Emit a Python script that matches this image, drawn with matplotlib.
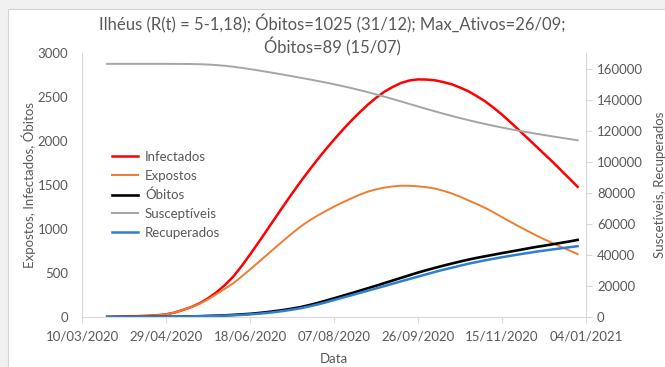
import matplotlib
matplotlib.use("Agg")
import matplotlib.pyplot as plt
import matplotlib.dates as mdates
from matplotlib.patches import Rectangle
import pandas as pd

plt.rcParams["font.family"] = ["Lato", "DejaVu Sans"]

# Model output sampled every 5 days, 25/03/2020 .. 30/12/2020
dates = pd.date_range("2020-03-25", periods=57, freq="5D")

infectados = [0, 3, 5, 8, 11, 15, 21, 30, 50, 80,
              113, 155, 212, 280, 362, 458, 578, 710, 845, 985,
              1125, 1265, 1402, 1535, 1662, 1785, 1903, 2015, 2123, 2225,
              2320, 2410, 2490, 2560, 2615, 2660, 2688, 2700, 2698, 2690,
              2670, 2645, 2608, 2565, 2510, 2450, 2378, 2300, 2214, 2125,
              2036, 1945, 1855, 1765, 1670, 1575, 1480]
expostos = [0, 3, 5, 8, 11, 15, 21, 30, 50, 80,
            112, 150, 200, 260, 320, 383, 460, 540, 622, 705,
            788, 870, 950, 1027, 1092, 1150, 1203, 1254, 1301, 1345,
            1387, 1424, 1450, 1470, 1484, 1492, 1491, 1485, 1475, 1460,
            1435, 1405, 1367, 1325, 1283, 1240, 1188, 1135, 1082, 1030,
            980, 930, 885, 840, 798, 757, 715]
obitos = [0, 0, 0, 0, 0, 1, 1, 2, 3, 5,
          7, 9, 12, 15, 19, 24, 30, 36, 45, 55,
          67, 80, 95, 112, 134, 158, 185, 212, 240, 268,
          297, 326, 355, 385, 415, 445, 475, 505, 532, 558,
          583, 607, 630, 652, 672, 690, 708, 726, 743, 760,
          778, 795, 810, 826, 842, 858, 876]
susceptiveis = [163000, 163000, 163000, 163000, 163000, 163000, 163000, 163000, 162990, 162960,
                162900, 162780, 162560, 162230, 161760, 161160, 160430, 159630, 158770, 157880,
                156960, 156020, 155060, 154080, 153080, 152050, 150990, 149880, 148710, 147480,
                146180, 144810, 143370, 141870, 140320, 138750, 137160, 135570, 134000, 132460,
                130960, 129510, 128110, 126770, 125490, 124270, 123110, 122010, 120960, 119960,
                119000, 118080, 117190, 116320, 115470, 114630, 113800]
recuperados = [0, 0, 0, 0, 20, 50, 100, 150, 220, 300,
               400, 500, 620, 750, 910, 1100, 1370, 1700, 2120, 2600,
               3200, 3900, 4700, 5600, 6750, 8000, 9400, 10900, 12400, 13900,
               15400, 16900, 18400, 19900, 21450, 23000, 24500, 26000, 27500, 29000,
               30400, 31700, 33000, 34300, 35400, 36500, 37500, 38500, 39400, 40300,
               41150, 42000, 42750, 43500, 44200, 44900, 45600]

x_ticks = ["10/03/2020", "29/04/2020", "18/06/2020", "07/08/2020", "26/09/2020",
           "15/11/2020", "04/01/2021"]
left_ticks = [0, 500, 1000, 1500, 2000, 2500, 3000]
right_ticks = [0, 20000, 40000, 60000, 80000, 100000, 120000, 140000, 160000]

title = "Ilhéus (R(t) = 5-1,18); Óbitos=1025 (31/12); Max_Ativos=26/09;\nÓbitos=89 (15/07)"

TXT = "#595959"
AXC = "#d9d9d9"

xt = pd.to_datetime(x_ticks, format="%d/%m/%Y")

W, H = 665, 367
fig = plt.figure(figsize=(W / 100, H / 100), dpi=100)
fig.patch.set_facecolor("#f0f0f0")
# chart area
fig.patches.append(Rectangle((7.5 / W, -0.01), 1.1, 1 - 8.5 / H + 0.01,
                             transform=fig.transFigure, facecolor="white",
                             edgecolor="#d4d4d4", linewidth=0.8, zorder=-10))

ax = fig.add_axes([82 / W, 1 - 317 / H, (586 - 82) / W, (317 - 53) / H])
ax.set_facecolor("none")
ax2 = ax.twinx()

l1, = ax.plot(dates, infectados, color="#ff0000", lw=1.8, label="Infectados")
l2, = ax.plot(dates, expostos, color="#ed7d31", lw=1.4, label="Expostos")
l3, = ax.plot(dates, obitos, color="#000000", lw=1.9, label="Óbitos")
l4, = ax2.plot(dates, susceptiveis, color="#a5a5a5", lw=1.4, label="Susceptíveis")
l5, = ax2.plot(dates, recuperados, color="#2e7fd0", lw=1.8, label="Recuperados")

ax.set_xlim(xt[0], xt[-1])
ax.set_ylim(0, 3000)
ax2.set_ylim(0, 170000)
ax.set_xticks(xt)
ax.xaxis.set_major_formatter(mdates.DateFormatter("%d/%m/%Y"))
ax.set_yticks(left_ticks)
ax2.set_yticks(right_ticks)

for a in (ax, ax2):
    for s in a.spines.values():
        s.set_visible(False)
ax.spines["left"].set_visible(True)
ax.spines["left"].set_color(AXC)
ax.spines["bottom"].set_visible(True)
ax.spines["bottom"].set_color(AXC)
ax2.spines["right"].set_visible(True)
ax2.spines["right"].set_color(AXC)

ax.tick_params(axis="x", colors=AXC, labelcolor=TXT, labelsize=9.5, length=4,
               width=0.8, pad=6)
ax.tick_params(axis="y", length=0, labelcolor=TXT, labelsize=9.5, pad=10)
ax2.tick_params(axis="y", colors=AXC, labelcolor=TXT, labelsize=9.5, length=4,
                width=0.8, pad=4)

ax.set_ylabel("Expostos, Infectados, Óbitos", color=TXT, fontsize=9.5, labelpad=1)
ax2.set_ylabel("Suscetíveis, Recuperados", color=TXT, fontsize=9.5, labelpad=8)
ax.set_xlabel("Data", color=TXT, fontsize=9.5, labelpad=7)

fig.text(332 / W, 1 - 35 / H, title, ha="center", va="center", color=TXT,
         fontsize=12, linespacing=1.25)

leg = ax.legend(handles=[l1, l2, l3, l4, l5], loc="upper left",
                bbox_to_anchor=(112 / W, 1 - 151 / H),
                bbox_transform=fig.transFigure, frameon=False, fontsize=9.5,
                handlelength=2.0, handletextpad=0.5, labelspacing=0.52,
                borderpad=0, borderaxespad=0)
for t in leg.get_texts():
    t.set_color(TXT)

fig.savefig("out.png", dpi=100, facecolor=fig.get_facecolor())
